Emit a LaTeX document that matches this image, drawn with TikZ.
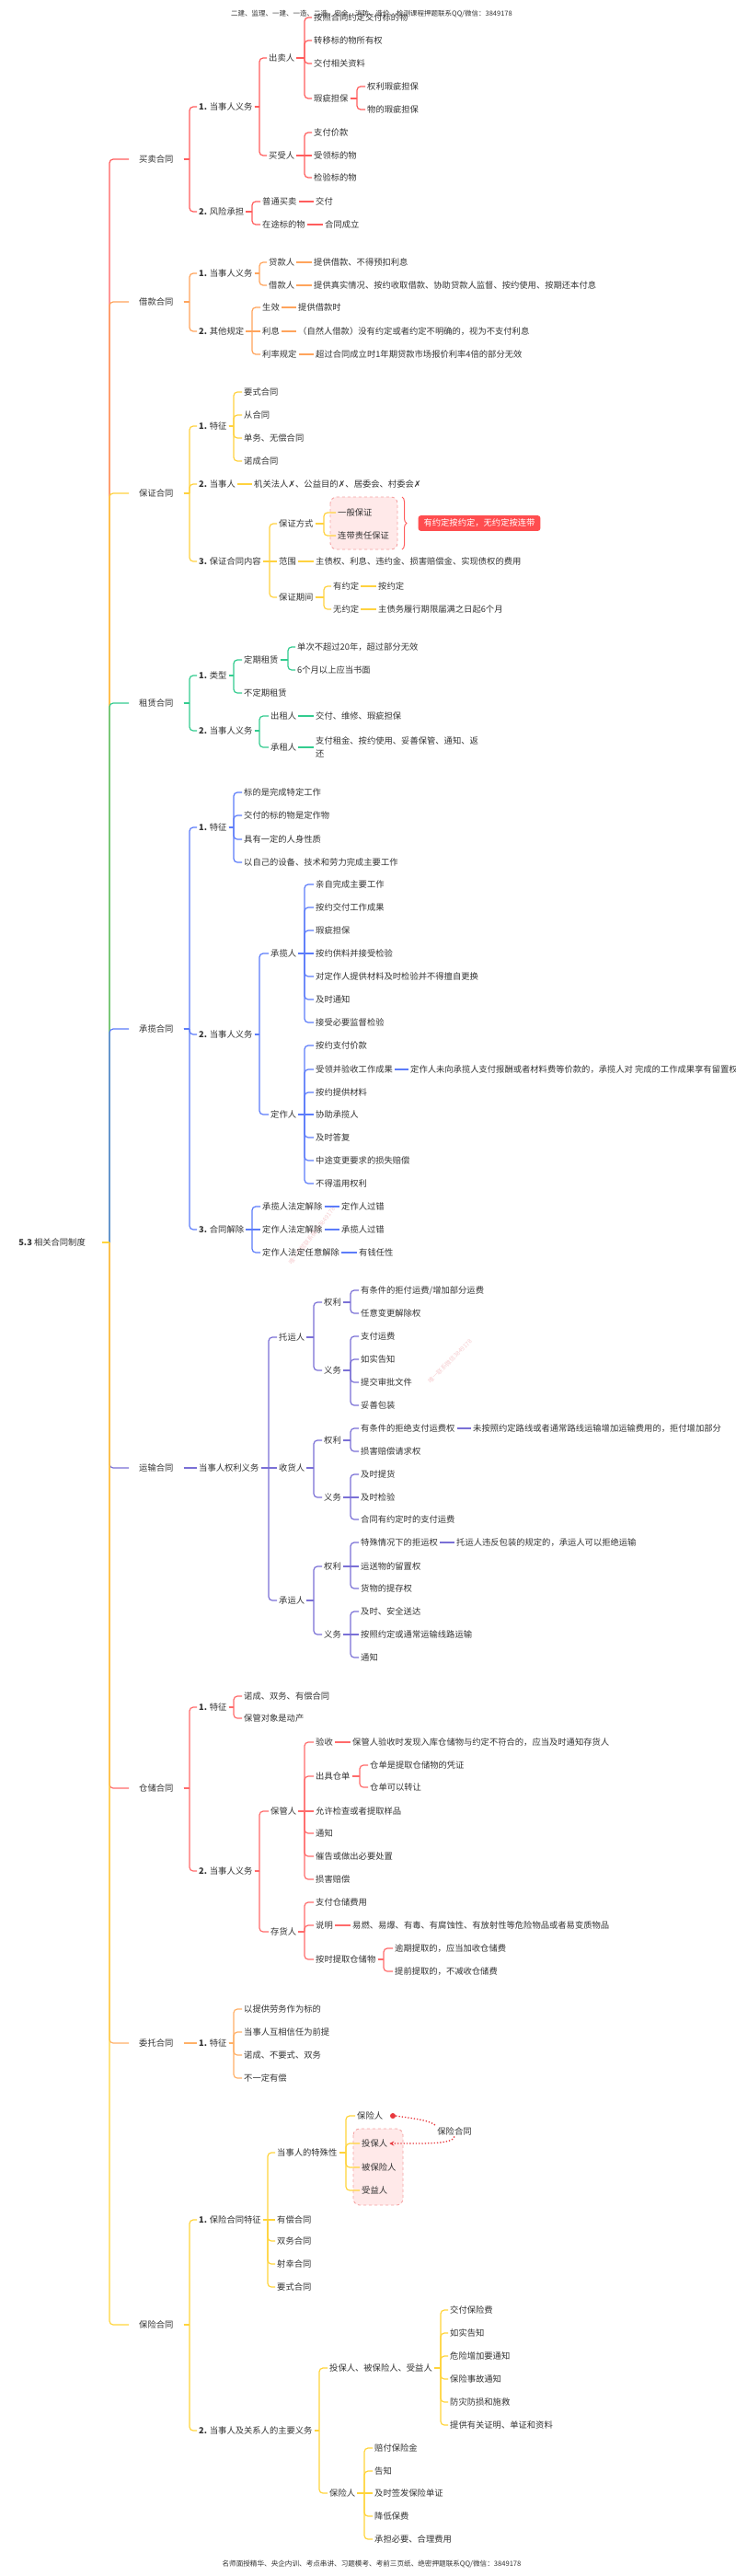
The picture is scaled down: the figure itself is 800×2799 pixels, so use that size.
\documentclass[tikz,border=0pt]{standalone}
\usepackage{fontspec}
\setmainfont{Noto Sans CJK SC}
\newfontfamily\symf{DejaVu Sans}
\usetikzlibrary{decorations.pathreplacing,arrows.meta}
\definecolor{txt}{HTML}{333333}
\definecolor{cA}{HTML}{FF5D5D}
\definecolor{cB}{HTML}{FFA45C}
\definecolor{cC}{HTML}{FFD23F}
\definecolor{cD}{HTML}{33CC8F}
\definecolor{cE}{HTML}{5C7CFA}
\definecolor{cF}{HTML}{7A70D6}
\definecolor{cG}{HTML}{FF6B6B}
\definecolor{cH}{HTML}{FFB067}
\definecolor{cI}{HTML}{FFD43B}
\definecolor{pinkfill}{HTML}{FFE9E9}
\definecolor{pinkline}{HTML}{F5A3A3}
\definecolor{calred}{HTML}{FF4D4F}
\definecolor{dotred}{HTML}{E8383D}
\definecolor{wm}{HTML}{F6CDD0}
\tikzset{
  t/.style={anchor=west,inner xsep=2pt,inner ysep=1pt,text=txt,font=\fontsize{9.3}{11}\selectfont},
  lone/.style={t,inner xsep=11pt},
  rootn/.style={anchor=east,inner xsep=18pt,inner ysep=2pt,text=txt,font=\fontsize{9.3}{11}\selectfont},
  ln/.style={line width=1.2pt},
  pinkbox/.style={fill=pinkfill,draw=pinkline,dashed,line width=0.9pt,rounded corners=7pt},
  wmark/.style={text=wm,font=\fontsize{6.5}{7}\selectfont,inner sep=0pt},
}
\newcommand{\mmb}[4]{%
  \draw[ln,#1] (#2.east) -- (#3,0 |- #2.east);
  \draw[ln,#1,rounded corners=4pt] (#3,0 |- #2.east) -- (#3,0 |- #4.west) -- (#4.west);}
\newcommand{\mms}[3]{\draw[ln,#1] (#2.east) -- (#3.west);}
\begin{document}
\begin{tikzpicture}[x=1pt,y=-1pt]
\useasboundingbox (0,0) rectangle (800,2799);
\fill[white] (0,0) rectangle (800,2799);
\draw[pinkbox] (359,540) rectangle (432,597);
\draw[pinkbox] (384,2313) rectangle (438,2396);

% watermarks
\node[wmark,rotate=52] (wm1) at (339,1343) {唯一押题联系微信3849178};
\node[wmark,rotate=45] (wm2) at (489,1479) {唯一联系微信3849178};

% header / footer
\node[text=txt,font=\fontsize{7.5}{8}\selectfont] (hdr) at (404,15) {二建、监理、一建、一造、二造、安全、消防、造价、检测课程押题联系QQ/微信：3849178};
\node[text=txt,font=\fontsize{7.6}{8}\selectfont] (ftr) at (404,2786) {名师面授精华、央企内训、考点串讲、习题模考、考前三页纸、绝密押题联系QQ/微信：3849178};

% root
\node[rootn] (root) at (111,1350) {\textbf{5.3} 相关合同制度};

% level 1
\node[lone] (A) at (140,173) {买卖合同};
\node[lone] (B) at (140,328) {借款合同};
\node[lone] (C) at (140,536) {保证合同};
\node[lone] (D) at (140,764) {租赁合同};
\node[lone] (E) at (140,1118) {承揽合同};
\node[lone] (F) at (140,1595) {运输合同};
\node[lone] (G) at (140,1943) {仓储合同};
\node[lone] (H) at (140,2220) {委托合同};
\node[lone] (I) at (140,2526) {保险合同};

% ===== A 买卖合同
\node[t] (A1) at (214,116) {\textbf{1.} 当事人义务};
\node[t] (A2) at (214,230) {\textbf{2.} 风险承担};
\node[t] (A11) at (290,63) {出卖人};
\node[t] (A12) at (290,169) {买受人};
\node[t] (A111) at (339,19) {按照合同约定交付标的物};
\node[t] (A112) at (339,44) {转移标的物所有权};
\node[t] (A113) at (339,69) {交付相关资料};
\node[t] (A114) at (339,107) {瑕疵担保};
\node[t] (A1141) at (397,94) {权利瑕疵担保};
\node[t] (A1142) at (397,119) {物的瑕疵担保};
\node[t] (A121) at (339,144) {支付价款};
\node[t] (A122) at (339,169) {受领标的物};
\node[t] (A123) at (339,193) {检验标的物};
\node[t] (A21) at (283,219) {普通买卖};
\node[t] (A22) at (283,244) {在途标的物};
\node[t] (A211) at (341,219) {交付};
\node[t] (A221) at (351,244) {合同成立};

% ===== B 借款合同
\node[t] (B1) at (214,297) {\textbf{1.} 当事人义务};
\node[t] (B2) at (214,360) {\textbf{2.} 其他规定};
\node[t] (B11) at (290,285) {贷款人};
\node[t] (B12) at (290,310) {借款人};
\node[t] (B111) at (339,285) {提供借款、不得预扣利息};
\node[t] (B121) at (339,310) {提供真实情况、按约收取借款、协助贷款人监督、按约使用、按期还本付息};
\node[t] (B21) at (283,334) {生效};
\node[t] (B22) at (283,360) {利息};
\node[t] (B23) at (283,385) {利率规定};
\node[t] (B211) at (322,334) {提供借款时};
\node[t] (B221) at (322,360) {（自然人借款）没有约定或者约定不明确的，视为不支付利息};
\node[t] (B231) at (341,385) {超过合同成立时1年期贷款市场报价利率4倍的部分无效};

% ===== C 保证合同
\node[t] (C1) at (214,463) {\textbf{1.} 特征};
\node[t] (C2) at (214,526) {\textbf{2.} 当事人};
\node[t] (C3) at (214,610) {\textbf{3.} 保证合同内容};
\node[t] (C11) at (263,426) {要式合同};
\node[t] (C12) at (263,451) {从合同};
\node[t] (C13) at (263,476) {单务、无偿合同};
\node[t] (C14) at (263,501) {诺成合同};
\node[t] (C21) at (274,526) {机关法人{\symf ✗}、公益目的{\symf ✗}、居委会、村委会{\symf ✗}};
\node[t] (C31) at (301,569) {保证方式};
\node[t] (C32) at (301,610) {范围};
\node[t] (C33) at (301,649) {保证期间};
\node[t] (C311) at (365,557) {一般保证};
\node[t] (C312) at (365,582) {连带责任保证};
\node[t] (C321) at (341,610) {主债权、利息、违约金、损害赔偿金、实现债权的费用};
\node[t] (C331) at (360,637) {有约定};
\node[t] (C332) at (360,662) {无约定};
\node[t] (C3311) at (409,637) {按约定};
\node[t] (C3321) at (409,662) {主债务履行期限届满之日起6个月};
\node[fill=calred,text=white,rounded corners=3pt,inner xsep=6pt,inner ysep=4pt,font=\fontsize{9.3}{11}\selectfont] (call) at (521,568.5) {有约定按约定，无约定按连带};
\draw[cA,line width=1pt,decorate,decoration={brace,amplitude=5pt}] (437,540) -- (437,597);

% ===== D 租赁合同
\node[t] (D1) at (214,734) {\textbf{1.} 类型};
\node[t] (D2) at (214,794) {\textbf{2.} 当事人义务};
\node[t] (D11) at (263,717) {定期租赁};
\node[t] (D12) at (263,753) {不定期租赁};
\node[t] (D111) at (321,703) {单次不超过20年，超过部分无效};
\node[t] (D112) at (321,728) {6个月以上应当书面};
\node[t] (D21) at (292,778) {出租人};
\node[t] (D22) at (292,812) {承租人};
\node[t] (D211) at (341,778) {交付、维修、瑕疵担保};
\node[t,align=left,font=\fontsize{9.3}{13.3}\selectfont] (D221) at (341,812) {支付租金、按约使用、妥善保管、通知、返\\还};

% ===== E 承揽合同
\node[t] (E1) at (214,899) {\textbf{1.} 特征};
\node[t] (E2) at (214,1124) {\textbf{2.} 当事人义务};
\node[t] (E3) at (214,1336) {\textbf{3.} 合同解除};
\node[t] (E11) at (263,861) {标的是完成特定工作};
\node[t] (E12) at (263,886) {交付的标的物是定作物};
\node[t] (E13) at (263,912) {具有一定的人身性质};
\node[t] (E14) at (263,937) {以自己的设备、技术和劳力完成主要工作};
\node[t] (E21) at (292,1036) {承揽人};
\node[t] (E22) at (292,1211) {定作人};
\node[t] (E211) at (341,961) {亲自完成主要工作};
\node[t] (E212) at (341,986) {按约交付工作成果};
\node[t] (E213) at (341,1011) {瑕疵担保};
\node[t] (E214) at (341,1036) {按约供料并接受检验};
\node[t] (E215) at (341,1061) {对定作人提供材料及时检验并不得擅自更换};
\node[t] (E216) at (341,1086) {及时通知};
\node[t] (E217) at (341,1111) {接受必要监督检验};
\node[t] (E221) at (341,1136) {按约支付价款};
\node[t] (E222) at (341,1162) {受领并验收工作成果};
\node[t] (E223) at (341,1187) {按约提供材料};
\node[t] (E224) at (341,1211) {协助承揽人};
\node[t] (E225) at (341,1236) {及时答复};
\node[t] (E226) at (341,1261) {中途变更要求的损失赔偿};
\node[t] (E227) at (341,1286) {不得滥用权利};
\node[t] (E2221) at (444,1162) {定作人未向承揽人支付报酬或者材料费等价款的，承揽人对 完成的工作成果享有留置权};
\node[t] (E31) at (283,1311) {承揽人法定解除};
\node[t] (E32) at (283,1336) {定作人法定解除};
\node[t] (E33) at (283,1361) {定作人法定任意解除};
\node[t] (E311) at (369,1311) {定作人过错};
\node[t] (E321) at (369,1336) {承揽人过错};
\node[t] (E331) at (388,1361) {有钱任性};

% ===== F 运输合同
\node[t] (F1) at (214,1595) {当事人权利义务};
\node[t] (F11) at (301,1453) {托运人};
\node[t] (F12) at (301,1595) {收货人};
\node[t] (F13) at (301,1739) {承运人};
\node[t] (F111) at (350,1415) {权利};
\node[t] (F112) at (350,1489) {义务};
\node[t] (F1111) at (390,1402) {有条件的拒付运费/增加部分运费};
\node[t] (F1112) at (390,1427) {任意变更解除权};
\node[t] (F1121) at (390,1452) {支付运费};
\node[t] (F1122) at (390,1477) {如实告知};
\node[t] (F1123) at (390,1502) {提交审批文件};
\node[t] (F1124) at (390,1527) {妥善包装};
\node[t] (F121) at (350,1565) {权利};
\node[t] (F122) at (350,1627) {义务};
\node[t] (F1211) at (390,1552) {有条件的拒绝支付运费权};
\node[t] (F1212) at (390,1577) {损害赔偿请求权};
\node[t] (F12111) at (512,1552) {未按照约定路线或者通常路线运输增加运输费用的，拒付增加部分};
\node[t] (F1221) at (390,1602) {及时提货};
\node[t] (F1222) at (390,1627) {及时检验};
\node[t] (F1223) at (390,1651) {合同有约定时的支付运费};
\node[t] (F131) at (350,1702) {权利};
\node[t] (F132) at (350,1776) {义务};
\node[t] (F1311) at (390,1676) {特殊情况下的拒运权};
\node[t] (F1312) at (390,1702) {运送物的留置权};
\node[t] (F1313) at (390,1726) {货物的提存权};
\node[t] (F13111) at (494,1676) {托运人违反包装的规定的，承运人可以拒绝运输};
\node[t] (F1321) at (390,1751) {及时、安全送达};
\node[t] (F1322) at (390,1776) {按照约定或通常运输线路运输};
\node[t] (F1323) at (390,1801) {通知};

% ===== G 仓储合同
\node[t] (G1) at (214,1855) {\textbf{1.} 特征};
\node[t] (G2) at (214,2033) {\textbf{2.} 当事人义务};
\node[t] (G11) at (263,1843) {诺成、双务、有偿合同};
\node[t] (G12) at (263,1867) {保管对象是动产};
\node[t] (G21) at (292,1968) {保管人};
\node[t] (G22) at (292,2099) {存货人};
\node[t] (G211) at (341,1893) {验收};
\node[t] (G212) at (341,1930) {出具仓单};
\node[t] (G213) at (341,1968) {允许检查或者提取样品};
\node[t] (G214) at (341,1992) {通知};
\node[t] (G215) at (341,2017) {催告或做出必要处置};
\node[t] (G216) at (341,2042) {损害赔偿};
\node[t] (G2111) at (381,1893) {保管人验收时发现入库仓储物与约定不符合的，应当及时通知存货人};
\node[t] (G2121) at (400,1918) {仓单是提取仓储物的凭证};
\node[t] (G2122) at (400,1942) {仓单可以转让};
\node[t] (G221) at (341,2067) {支付仓储费用};
\node[t] (G222) at (341,2092) {说明};
\node[t] (G223) at (341,2129) {按时提取仓储物};
\node[t] (G2221) at (381,2092) {易燃、易爆、有毒、有腐蚀性、有放射性等危险物品或者易变质物品};
\node[t] (G2231) at (427,2117) {逾期提取的，应当加收仓储费};
\node[t] (G2232) at (427,2142) {提前提取的，不减收仓储费};

% ===== H 委托合同
\node[t] (H1) at (214,2220) {\textbf{1.} 特征};
\node[t] (H11) at (263,2183) {以提供劳务作为标的};
\node[t] (H12) at (263,2208) {当事人互相信任为前提};
\node[t] (H13) at (263,2233) {诺成、不要式、双务};
\node[t] (H14) at (263,2258) {不一定有偿};

% ===== I 保险合同
\node[t] (I1) at (214,2412) {\textbf{1.} 保险合同特征};
\node[t] (I2) at (214,2641) {\textbf{2.} 当事人及关系人的主要义务};
\node[t] (I11) at (299,2339) {当事人的特殊性};
\node[t] (I12) at (299,2412) {有偿合同};
\node[t] (I13) at (299,2435) {双务合同};
\node[t] (I14) at (299,2460) {射幸合同};
\node[t] (I15) at (299,2485) {要式合同};
\node[t] (I111) at (386,2299) {保险人};
\node[t] (I112) at (391,2329) {投保人};
\node[t] (I113) at (391,2355) {被保险人};
\node[t] (I114) at (391,2380) {受益人};
\node[circle,fill=dotred,inner sep=0pt,minimum size=6pt] (dot) at (427,2299) {};
\node[text=txt,font=\fontsize{9.3}{11}\selectfont,inner sep=1pt] (rel) at (494,2316) {保险合同};
\draw[dotred,line width=1.3pt,dotted] (dot.east) .. controls (450,2302) and (470,2304) .. (rel.north west);
\draw[dotred,line width=1.3pt,dotted,-{Stealth[length=5pt,width=5pt]}] (rel.south) .. controls (492,2330) and (462,2329) .. (I112.east);
\node[t] (I21) at (356,2573) {投保人、被保险人、受益人};
\node[t] (I22) at (356,2709) {保险人};
\node[t] (I211) at (487,2510) {交付保险费};
\node[t] (I212) at (487,2535) {如实告知};
\node[t] (I213) at (487,2560) {危险增加要通知};
\node[t] (I214) at (487,2585) {保险事故通知};
\node[t] (I215) at (487,2610) {防灾防损和施救};
\node[t] (I216) at (487,2635) {提供有关证明、单证和资料};
\node[t] (I221) at (405,2660) {赔付保险金};
\node[t] (I222) at (405,2685) {告知};
\node[t] (I223) at (405,2709) {及时签发保险单证};
\node[t] (I224) at (405,2734) {降低保费};
\node[t] (I225) at (405,2759) {承担必要、合理费用};

% ===== connectors: trunk
\mmb{cA}{root}{119}{A}
\mmb{cB}{root}{119}{B}
\mmb{cC}{root}{119}{C}
\mmb{cD}{root}{119}{D}
\mmb{cE}{root}{119}{E}
\mmb{cF}{root}{119}{F}
\mmb{cG}{root}{119}{G}
\mmb{cH}{root}{119}{H}
\mmb{cI}{root}{119}{I}

% A
\mmb{cA}{A}{206}{A1}\mmb{cA}{A}{206}{A2}
\mmb{cA}{A1}{282}{A11}\mmb{cA}{A1}{282}{A12}
\mmb{cA}{A11}{331}{A111}\mmb{cA}{A11}{331}{A112}\mmb{cA}{A11}{331}{A113}\mmb{cA}{A11}{331}{A114}
\mmb{cA}{A114}{388}{A1141}\mmb{cA}{A114}{388}{A1142}
\mmb{cA}{A12}{331}{A121}\mms{cA}{A12}{A122}\mmb{cA}{A12}{331}{A123}
\mmb{cA}{A2}{274}{A21}\mmb{cA}{A2}{274}{A22}
\mms{cA}{A21}{A211}\mms{cA}{A22}{A221}

% B
\mmb{cB}{B}{206}{B1}\mmb{cB}{B}{206}{B2}
\mmb{cB}{B1}{282}{B11}\mmb{cB}{B1}{282}{B12}
\mms{cB}{B11}{B111}\mms{cB}{B12}{B121}
\mmb{cB}{B2}{274}{B21}\mms{cB}{B2}{B22}\mmb{cB}{B2}{274}{B23}
\mms{cB}{B21}{B211}\mms{cB}{B22}{B221}\mms{cB}{B23}{B231}

% C
\mmb{cC}{C}{206}{C1}\mmb{cC}{C}{206}{C2}\mmb{cC}{C}{206}{C3}
\mmb{cC}{C1}{254}{C11}\mmb{cC}{C1}{254}{C12}\mmb{cC}{C1}{254}{C13}\mmb{cC}{C1}{254}{C14}
\mms{cC}{C2}{C21}
\mmb{cC}{C3}{293}{C31}\mms{cC}{C3}{C32}\mmb{cC}{C3}{293}{C33}
\mmb{cC}{C31}{352}{C311}\mmb{cC}{C31}{352}{C312}
\mms{cC}{C32}{C321}
\mmb{cC}{C33}{352}{C331}\mmb{cC}{C33}{352}{C332}
\mms{cC}{C331}{C3311}\mms{cC}{C332}{C3321}

% D
\mmb{cD}{D}{206}{D1}\mmb{cD}{D}{206}{D2}
\mmb{cD}{D1}{254}{D11}\mmb{cD}{D1}{254}{D12}
\mmb{cD}{D11}{313}{D111}\mmb{cD}{D11}{313}{D112}
\mmb{cD}{D2}{282}{D21}\mmb{cD}{D2}{282}{D22}
\mms{cD}{D21}{D211}\mms{cD}{D22}{D221}

% E
\mmb{cE}{E}{206}{E1}\mmb{cE}{E}{206}{E2}\mmb{cE}{E}{206}{E3}
\mmb{cE}{E1}{254}{E11}\mmb{cE}{E1}{254}{E12}\mmb{cE}{E1}{254}{E13}\mmb{cE}{E1}{254}{E14}
\mmb{cE}{E2}{282}{E21}\mmb{cE}{E2}{282}{E22}
\mmb{cE}{E21}{331}{E211}\mmb{cE}{E21}{331}{E212}\mmb{cE}{E21}{331}{E213}\mms{cE}{E21}{E214}
\mmb{cE}{E21}{331}{E215}\mmb{cE}{E21}{331}{E216}\mmb{cE}{E21}{331}{E217}
\mmb{cE}{E22}{331}{E221}\mmb{cE}{E22}{331}{E222}\mmb{cE}{E22}{331}{E223}\mms{cE}{E22}{E224}
\mmb{cE}{E22}{331}{E225}\mmb{cE}{E22}{331}{E226}\mmb{cE}{E22}{331}{E227}
\mms{cE}{E222}{E2221}
\mmb{cE}{E3}{274}{E31}\mms{cE}{E3}{E32}\mmb{cE}{E3}{274}{E33}
\mms{cE}{E31}{E311}\mms{cE}{E32}{E321}\mms{cE}{E33}{E331}

% F
\mms{cF}{F}{F1}
\mmb{cF}{F1}{292}{F11}\mms{cF}{F1}{F12}\mmb{cF}{F1}{292}{F13}
\mmb{cF}{F11}{341}{F111}\mmb{cF}{F11}{341}{F112}
\mmb{cF}{F111}{381}{F1111}\mmb{cF}{F111}{381}{F1112}
\mmb{cF}{F112}{381}{F1121}\mmb{cF}{F112}{381}{F1122}\mmb{cF}{F112}{381}{F1123}\mmb{cF}{F112}{381}{F1124}
\mmb{cF}{F12}{341}{F121}\mmb{cF}{F12}{341}{F122}
\mmb{cF}{F121}{381}{F1211}\mmb{cF}{F121}{381}{F1212}
\mms{cF}{F1211}{F12111}
\mmb{cF}{F122}{381}{F1221}\mms{cF}{F122}{F1222}\mmb{cF}{F122}{381}{F1223}
\mmb{cF}{F13}{341}{F131}\mmb{cF}{F13}{341}{F132}
\mmb{cF}{F131}{381}{F1311}\mms{cF}{F131}{F1312}\mmb{cF}{F131}{381}{F1313}
\mms{cF}{F1311}{F13111}
\mmb{cF}{F132}{381}{F1321}\mms{cF}{F132}{F1322}\mmb{cF}{F132}{381}{F1323}

% G
\mmb{cG}{G}{206}{G1}\mmb{cG}{G}{206}{G2}
\mmb{cG}{G1}{254}{G11}\mmb{cG}{G1}{254}{G12}
\mmb{cG}{G2}{282}{G21}\mmb{cG}{G2}{282}{G22}
\mmb{cG}{G21}{331}{G211}\mmb{cG}{G21}{331}{G212}\mms{cG}{G21}{G213}
\mmb{cG}{G21}{331}{G214}\mmb{cG}{G21}{331}{G215}\mmb{cG}{G21}{331}{G216}
\mms{cG}{G211}{G2111}
\mmb{cG}{G212}{391}{G2121}\mmb{cG}{G212}{391}{G2122}
\mmb{cG}{G22}{331}{G221}\mmb{cG}{G22}{331}{G222}\mmb{cG}{G22}{331}{G223}
\mms{cG}{G222}{G2221}
\mmb{cG}{G223}{417}{G2231}\mmb{cG}{G223}{417}{G2232}

% H
\mms{cH}{H}{H1}
\mmb{cH}{H1}{254}{H11}\mmb{cH}{H1}{254}{H12}\mmb{cH}{H1}{254}{H13}\mmb{cH}{H1}{254}{H14}

% I
\mmb{cI}{I}{206}{I1}\mmb{cI}{I}{206}{I2}
\mmb{cI}{I1}{291}{I11}\mms{cI}{I1}{I12}\mmb{cI}{I1}{291}{I13}\mmb{cI}{I1}{291}{I14}\mmb{cI}{I1}{291}{I15}
\mmb{cI}{I11}{376}{I111}\mmb{cI}{I11}{376}{I112}\mmb{cI}{I11}{376}{I113}\mmb{cI}{I11}{376}{I114}
\mmb{cI}{I2}{347}{I21}\mmb{cI}{I2}{347}{I22}
\mmb{cI}{I21}{479}{I211}\mmb{cI}{I21}{479}{I212}\mmb{cI}{I21}{479}{I213}
\mmb{cI}{I21}{479}{I214}\mmb{cI}{I21}{479}{I215}\mmb{cI}{I21}{479}{I216}
\mmb{cI}{I22}{396}{I221}\mmb{cI}{I22}{396}{I222}\mms{cI}{I22}{I223}
\mmb{cI}{I22}{396}{I224}\mmb{cI}{I22}{396}{I225}
\end{tikzpicture}
\end{document}
